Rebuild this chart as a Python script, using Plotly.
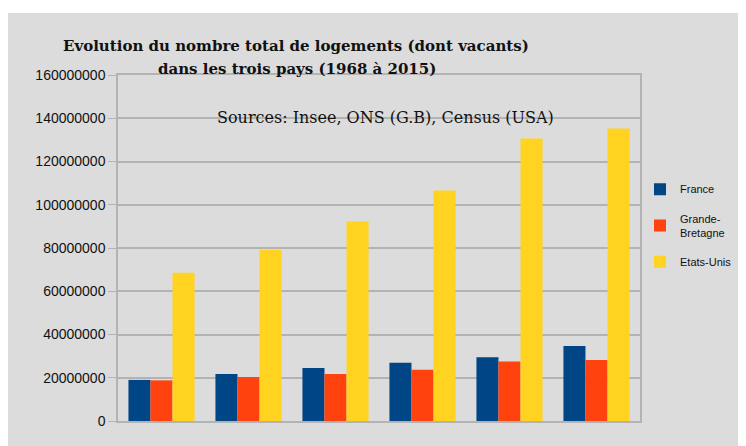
import plotly.graph_objects as go

annees = ["1968", "1975", "1982", "1990", "1999", "2015"]
france = [19000000, 21700000, 24500000, 26900000, 29500000, 34700000]
grande_bretagne = [18800000, 20400000, 21700000, 23700000, 27500000, 28200000]
etats_unis = [68500000, 79200000, 92300000, 106600000, 130600000, 135300000]
y_ticks = [0, 20000000, 40000000, 60000000, 80000000, 100000000, 120000000, 140000000, 160000000]

fig = go.Figure()
series = [("France", france, "#004586"),
          ("Grande-<br>Bretagne", grande_bretagne, "#ff420e"),
          ("Etats-Unis", etats_unis, "#ffd320")]
for i, (nom, vals, col) in enumerate(series):
    fig.add_trace(go.Bar(x=annees, y=vals, name=nom, marker_color=col,
                         marker_line_width=0, legendgroup=str(i)))

# the page puts the figure 8px from the top-left corner
fig.update_layout(
    width=738, height=438,
    margin=dict(l=110, r=106, t=67, b=25, autoexpand=False),
    paper_bgcolor="#dcdcdc", plot_bgcolor="#dcdcdc",
    barmode="group", bargap=0.24, bargroupgap=0,
    font=dict(family="Liberation Sans, Arial", color="#111"),
    showlegend=True,
    legend=dict(x=1.0, y=0.712, xanchor="left", yanchor="top",
                bgcolor="rgba(0,0,0,0)", font=dict(size=11),
                traceorder="grouped", tracegroupgap=11),
)
fig.update_yaxes(range=[0, 160000000], tickvals=y_ticks, tickformat="d",
                 showgrid=True, gridcolor="#b3b3b3", gridwidth=1.5,
                 showline=True, linecolor="#b3b3b3", linewidth=1.5, mirror=True,
                 ticks="outside", ticklen=8, tickcolor="#b3b3b3",
                 tickfont=dict(size=14), zeroline=False)
fig.update_xaxes(showticklabels=False, showline=True, linecolor="#b3b3b3",
                 linewidth=1.5, mirror=True, ticks="")

# white strip above the grey frame
fig.add_shape(type="rect", xref="paper", yref="paper", x0=-0.3, x1=1.3,
              y0=1.179, y1=1.3, fillcolor="white", line_width=0, layer="below")

titre_font = dict(family="DejaVu Serif", size=15, color="#111")
fig.add_annotation(text="<b>Evolution du nombre total de logements (dont vacants)</b>",
                   xref="paper", yref="paper", x=0.341, y=1.084, showarrow=False,
                   xanchor="center", yanchor="middle", font=titre_font)
fig.add_annotation(text="<b>dans les trois pays (1968 à 2015)</b>",
                   xref="paper", yref="paper", x=0.343, y=1.017, showarrow=False,
                   xanchor="center", yanchor="middle", font=titre_font)
fig.add_annotation(text="Sources: Insee, ONS (G.B), Census (USA)",
                   xref="paper", yref="paper", x=0.513, y=0.876, showarrow=False,
                   xanchor="center", yanchor="middle",
                   font=dict(family="DejaVu Serif", size=16, color="#111"))

fig.write_html("out.html")
